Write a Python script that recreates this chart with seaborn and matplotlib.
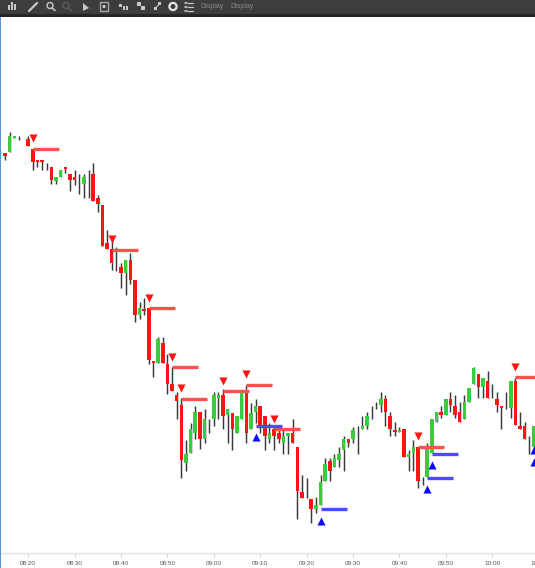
import matplotlib
matplotlib.use("Agg")
import matplotlib.pyplot as plt
from matplotlib.patches import Rectangle, Circle
import numpy as np
import pandas as pd
import seaborn as sns

W, H = 535, 568
open_ = [415,414.7,415.7,429.7,431,429.5,429,419,408,408,404,401.3,387.3,390.7,401.3,393.7,390.7,390,384,388,
         394,369.7,363,325.3,319,319,300.7,294.7,308,288,253,259,259.7,207.3,204.7,224.7,204,183.7,172.7,162.7,
         104.7,114.7,135.3,155.7,128.7,142,149.3,169.7,173,152.7,155.3,135.3,149.3,178,138.7,156,162,152,128.7,138.7,
         135.3,124.7,132,135.3,121.3,76.3,80,69.3,59.3,62.7,87.3,107,101.3,108,118,128.7,128.7,142,139,142.3,
         158,162,163,169,152.3,138,135.7,138.7,110.7,114.7,121.3,90,91.3,114.7,145.7,155.7,153,169,162.3,155.7,
         149,166.3,183.7,193.7,180.7,187,183,169,162.3,160,159.7,187,142.3,142.3,132,121.3]
close = [415,412.3,432.3,431.7,431,429.5,422.3,405.7,405.7,405.7,404,388,390.7,398,398.7,388,388,390,390.7,388,
         367,363.7,322.3,319,304.7,319,294.7,308,288,253,259.7,257,208,205.3,228.7,204.7,184,177.3,166.7,108,
         114,138.7,155.7,128.7,148.7,142,172.7,173,152,159,138.7,152,175.3,135.3,155.3,162,142,132,135.3,132,
         128.7,132,134.7,125.3,77,70.3,80,59.3,62.7,86.3,103.7,97.3,110.3,114,128.7,125.3,138,142,142,152.3,
         158,162,169,156.3,139,135.7,138,111.3,114,121.3,87.3,90,121.3,148.7,155.7,153,169,163,153,145.7,
         165.7,180.3,200,180.7,190.3,169.7,183,163,159.7,160,187,143,139,128.7,132,142.3]
high = [418,414.7,435.7,431.7,432.3,429.5,432.3,419,408,408,404.7,401.3,390.7,398,401.3,393.7,398,393.7,393.7,398,
        404.7,373,363,338,328,320.7,304.7,308,314.7,288,265.7,269.7,259.7,207.3,231.3,231.3,214,201.3,176.3,169.7,
        128,145.3,162,155.7,158.7,148.7,176.3,176.3,178.7,159,155.3,152,175.3,183,165.3,169.3,162,152,145.3,142,
        142,138.7,134.7,148.7,121.3,93,89.7,69.3,71.3,93,110.3,110.3,113.7,120.7,132,128.7,141.3,142,152,155.7,
        162.3,166.3,176.3,173,155.7,145.7,141.3,138.7,118,128,121.3,91.3,124.7,148.7,155.7,162.3,169,176.3,173,166.3,
        173,180.3,200.7,193.7,190.3,197,183.7,176.3,162.3,176.3,187,190.3,155.7,145.7,132,142.3]
low = [413,408,415.7,429.7,428.3,429.5,422.3,398.3,401.3,398,398,383.7,383.7,390.7,394.7,377,383,373.7,370.3,370.3,
       367,356.3,322.3,319,298,297.3,280.3,273,283.7,245.7,249,253,204,190.7,204.7,204.7,174,177.3,148.7,90.3,
       97,114.7,128.7,118.7,124.7,135.3,142,148.7,138.7,124.7,118,135.3,149.3,124.7,138.7,145.3,135.3,118,124.7,118,
       124.7,114,114,125.3,48.7,70.3,69.7,45.3,55.3,62.7,87.3,87,100.7,101.3,97.3,121.3,125.3,114,139,139,
       148.7,159,156.3,142.3,132,132,135.7,111.3,97.3,97.3,80.3,83,91.3,114.7,145.7,149.7,153,156.3,149.7,145.7,
       149,166.3,183.7,169.7,169.7,169.7,169.7,156.3,138.7,159,149.7,143,139,128.7,114,114.7]
first_minute = 494  # 08:14
tick_minutes = [500, 510, 520, 530, 540, 550, 560, 570, 580, 590, 600, 610]
tick_labels = ["08:20", "08:30", "08:40", "08:50", "09:00", "09:10",
               "09:20", "09:30", "09:40", "09:50", "10:00", "10:10"]
sell_bars = [7, 24, 32, 37, 39, 48, 53, 59, 90, 111]
sell_marker = [429.7, 328.7, 270, 211.3, 180.3, 187.3, 194.3, 149.3, 132, 201]
sell_level = [418.7, 318, 259.7, 200.7, 169.3, 176.7, 183.3, 138.7, 121.3, 190.7]
buy_bars = [55, 69, 92, 93, 115, 115]
buy_marker = [131, 47.3, 79, 103, 106.3, 118]
level_bars = [55, 69, 92, 93]
buy_level = [142, 58.7, 90.3, 114]
level_span = 5.6

RED, GREEN, BLUE = "#ff1414", "#3ccb3c", "#0a0aff"
sns.set_theme(style="white")
plt.rcParams["font.family"] = ["Liberation Sans", "DejaVu Sans"]

candles = pd.DataFrame({"open": open_, "close": close, "high": high, "low": low})
candles["minute"] = first_minute + candles.index
candles["bottom"] = candles[["open", "close"]].min(axis=1)
candles["size"] = (candles["close"] - candles["open"]).abs()
candles["colour"] = np.where(candles["close"] >= candles["open"], GREEN, RED)

fig = plt.figure(figsize=(W / 100, H / 100), dpi=100, facecolor="white")
ax = fig.add_axes([0, 15 / H, 545 / W, 536 / H])
ax.set_xlim(first_minute - 0.08, first_minute + 117.38)
ax.set_ylim(15, 551)

ax.vlines(candles["minute"], candles["low"], candles["high"], color="#3a3a3a", lw=1.05, zorder=2)
solid = candles[candles["size"] > 0]
ax.bar(solid["minute"], solid["size"], bottom=solid["bottom"], width=0.76,
       color=solid["colour"], linewidth=0, zorder=3)

sell_x = [first_minute + b for b in sell_bars]
buy_x = [first_minute + b for b in buy_bars]
lvl_x = [first_minute + b for b in level_bars]
ax.hlines(sell_level, sell_x, [x + level_span for x in sell_x], color="#ff5050", lw=2.4, zorder=4)
ax.hlines(buy_level, lvl_x, [x + level_span for x in lvl_x], color="#4a4aff", lw=2.4, zorder=4)
sns.scatterplot(x=sell_x, y=sell_marker, marker="v", color=RED, s=34, linewidth=0, ax=ax, zorder=5)
sns.scatterplot(x=buy_x, y=buy_marker, marker="^", color=BLUE, s=34, linewidth=0, ax=ax, zorder=5)

ax.set_xticks(tick_minutes)
ax.set_xticklabels(tick_labels, fontsize=4.6, color="#555555")
ax.set_yticks([])
ax.tick_params(axis="x", length=3, width=0.6, color="#cccccc", pad=3, bottom=True)
for name in ["top", "left", "right"]:
    ax.spines[name].set_visible(False)
ax.spines["bottom"].set_color("#e2e2e2")
ax.spines["bottom"].set_linewidth(1)

# application chrome, in pixel coordinates of the screenshot
ui = fig.add_axes([0, 0, 1, 1], zorder=10)
ui.set_xlim(0, W)
ui.set_ylim(H, 0)
ui.axis("off")
ui.patch.set_alpha(0)
ui.add_patch(Rectangle((0, 0), W, 13.5, color="#3d3d3d", lw=0))
ui.add_patch(Rectangle((0, 13.5), W, 3.5, color="#262626", lw=0))
ui.add_patch(Rectangle((0, 17), 1.3, H - 17, color="#5f8fd8", lw=0))
ICON = "#c8c8c8"
for bx, bh in zip([9, 12, 15], [5, 8, 6]):
    ui.add_patch(Rectangle((bx - 0.8, 10 - bh), 1.6, bh, color=ICON, lw=0))
ui.plot([29, 37], [11, 3], color=ICON, lw=1.6)
ui.add_patch(Circle((50, 5.5), 3, fill=False, ec=ICON, lw=1))
ui.plot([52, 55], [8, 10.5], color=ICON, lw=1.2)
ui.add_patch(Circle((66, 5.5), 3, fill=False, ec="#5c5c5c", lw=1))
ui.plot([68, 71], [8, 10.5], color="#5c5c5c", lw=1.2)
ui.fill([83, 83, 89], [3, 11, 8], color=ICON, lw=0)
ui.add_patch(Rectangle((100, 2), 8, 9, fill=False, ec="#a8a8a8", lw=1))
ui.add_patch(Circle((104, 6.5), 1.6, color=ICON, lw=0))
for bx, by, bw, bh in [(119, 4, 2.5, 2.5), (123, 6, 2, 4), (126, 6, 2, 4),
                       (137, 2, 4, 4), (141, 6, 4, 4), (154, 7, 2.5, 3), (158, 2, 2.5, 3)]:
    ui.add_patch(Rectangle((bx, by), bw, bh, color=ICON, lw=0))
ui.plot([155, 160], [9, 3], color=ICON, lw=0.8)
ui.add_patch(Circle((173, 6.5), 3.6, fill=False, ec="#e4e4e4", lw=1.6))
for ly in [2.5, 6.5, 10.5]:
    ui.plot([185, 186.5], [ly, ly], color=ICON, lw=1.2)
    ui.plot([188, 193], [ly, ly], color=ICON, lw=0.9)
ui.text(212, 7, "Display", fontsize=5, color="#8a8a8a", ha="center", va="center")
ui.text(242, 7, "Display", fontsize=5, color="#8a8a8a", ha="center", va="center")

fig.savefig("out.png", dpi=100, facecolor="white")
